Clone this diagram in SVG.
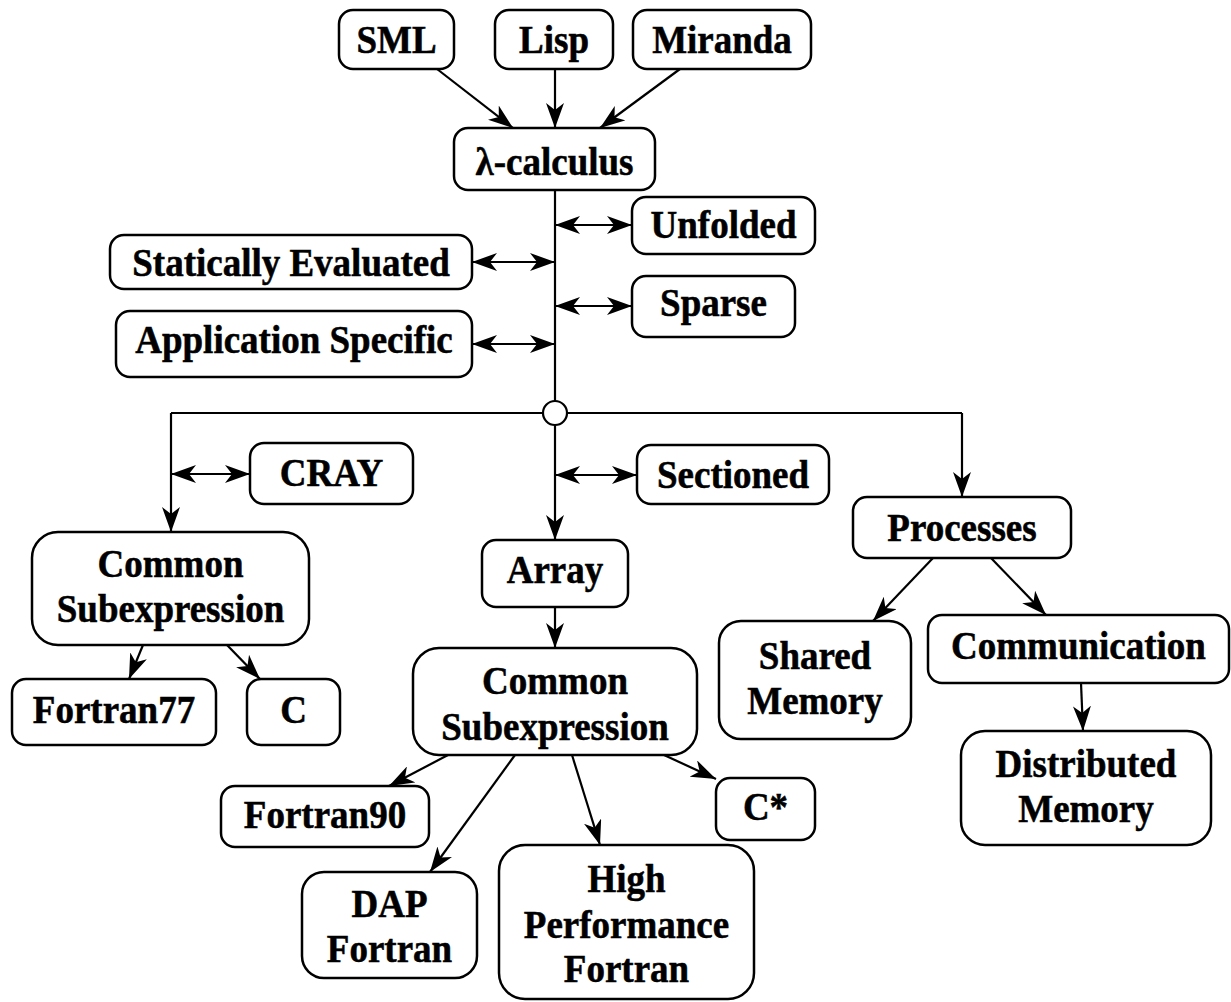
<svg xmlns="http://www.w3.org/2000/svg" width="1231" height="1002" viewBox="0 0 1231 1002">
<style>
.b{fill:#fff;stroke:#000;stroke-width:2.5}
.t text{font-family:"Liberation Serif","Times New Roman",serif;font-weight:bold;font-size:37px;text-anchor:middle;fill:#000;stroke:#000;stroke-width:0.5}
.c line,.c path{stroke:#000;stroke-width:2.2;fill:none}
.a{marker-end:url(#ah)}
.d{marker-start:url(#ah);marker-end:url(#ah)}
</style>
<defs>
<marker id="ah" markerUnits="userSpaceOnUse" viewBox="0 0 25 18" refX="25" refY="9" markerWidth="25" markerHeight="18" orient="auto-start-reverse">
<path d="M0,0 L25,9 L0,18 L7,9 Z" fill="#000"/>
</marker>
</defs>
<rect width="1231" height="1002" fill="#fff"/>
<g class="c" id="connectors">
<line class="a" x1="437" y1="69" x2="513" y2="128"/>
<line class="a" x1="555" y1="69" x2="555" y2="128"/>
<line class="a" x1="680" y1="69" x2="600" y2="128"/>
<line x1="555" y1="190" x2="555" y2="401"/>
<line class="d" x1="555" y1="225" x2="632" y2="225"/>
<line class="d" x1="472" y1="262" x2="555" y2="262"/>
<line class="d" x1="555" y1="306" x2="632" y2="306"/>
<line class="d" x1="472" y1="344" x2="555" y2="344"/>
<line x1="171" y1="413" x2="962" y2="413"/>
<path class="a" d="M171,413 V532"/>
<line class="a" x1="555" y1="425" x2="555" y2="540"/>
<path class="a" d="M962,413 V497"/>
<line class="d" x1="171" y1="474" x2="250" y2="474"/>
<line class="d" x1="555" y1="475" x2="637" y2="475"/>
<line class="a" x1="143" y1="645" x2="129" y2="679"/>
<line class="a" x1="227" y1="645" x2="260" y2="679"/>
<line class="a" x1="555" y1="607" x2="555" y2="648"/>
<line class="a" x1="448" y1="755" x2="389" y2="786"/>
<line class="a" x1="515" y1="755" x2="430" y2="872"/>
<line class="a" x1="572" y1="755" x2="600" y2="845"/>
<line class="a" x1="664" y1="755" x2="716" y2="779"/>
<line class="a" x1="933" y1="558" x2="873" y2="621"/>
<line class="a" x1="991" y1="558" x2="1046" y2="615"/>
<line class="a" x1="1081" y1="683" x2="1083" y2="731"/>
<circle cx="555" cy="413" r="12" fill="#fff" stroke="#000" stroke-width="2.2"/>
</g>
<g class="t">
<g id="sml"><rect class="b" x="339" y="10" width="115" height="59" rx="14"/><text transform="translate(396.5 53) scale(1 1.09)">SML</text></g>
<g id="lisp"><rect class="b" x="495" y="10" width="118" height="59" rx="14"/><text transform="translate(554 53) scale(1 1.09)">Lisp</text></g>
<g id="miranda"><rect class="b" x="633" y="10" width="178" height="59" rx="14"/><text transform="translate(722 53) scale(1 1.09)">Miranda</text></g>
<g id="lambda"><rect class="b" x="454" y="128" width="201" height="62" rx="14"/><text transform="translate(554.5 175) scale(1 1.09)">λ-calculus</text></g>
<g id="unfolded"><rect class="b" x="632" y="197" width="183" height="57" rx="14"/><text transform="translate(723.5 238) scale(1 1.09)">Unfolded</text></g>
<g id="statically"><rect class="b" x="110" y="235" width="362" height="54" rx="14"/><text transform="translate(291 276) scale(1 1.09)">Statically Evaluated</text></g>
<g id="sparse"><rect class="b" x="632" y="276" width="163" height="61" rx="14"/><text transform="translate(713.5 316) scale(1 1.09)">Sparse</text></g>
<g id="appspec"><rect class="b" x="116" y="311" width="356" height="66" rx="14"/><text transform="translate(294 353) scale(1 1.09)">Application Specific</text></g>
<g id="cray"><rect class="b" x="250" y="443" width="163" height="61" rx="14"/><text transform="translate(331.5 486) scale(1 1.09)">CRAY</text></g>
<g id="sectioned"><rect class="b" x="637" y="445" width="192" height="59" rx="14"/><text transform="translate(733 488) scale(1 1.09)">Sectioned</text></g>
<g id="array"><rect class="b" x="482" y="540" width="146" height="67" rx="14"/><text transform="translate(555 583) scale(1 1.09)">Array</text></g>
<g id="processes"><rect class="b" x="853" y="497" width="218" height="61" rx="14"/><text transform="translate(962 541) scale(1 1.09)">Processes</text></g>
<g id="communication"><rect class="b" x="928" y="615" width="301" height="68" rx="14"/><text transform="translate(1078.5 659) scale(1 1.09)">Communication</text></g>
<g id="commonL"><rect class="b" x="32" y="532" width="277" height="113" rx="26"/><text transform="translate(170.5 577) scale(1 1.09)">Common</text><text transform="translate(170.5 622) scale(1 1.09)">Subexpression</text></g>
<g id="fortran77"><rect class="b" x="12" y="679" width="204" height="66" rx="14"/><text transform="translate(114 723) scale(1 1.09)">Fortran77</text></g>
<g id="c"><rect class="b" x="247" y="679" width="93" height="66" rx="14"/><text transform="translate(293.5 723) scale(1 1.09)">C</text></g>
<g id="commonM"><rect class="b" x="413" y="648" width="284" height="107" rx="26"/><text transform="translate(555 694) scale(1 1.09)">Common</text><text transform="translate(555 740) scale(1 1.09)">Subexpression</text></g>
<g id="shared"><rect class="b" x="719" y="621" width="192" height="118" rx="22"/><text transform="translate(815 669) scale(1 1.09)">Shared</text><text transform="translate(815 714) scale(1 1.09)">Memory</text></g>
<g id="distributed"><rect class="b" x="961" y="731" width="250" height="114" rx="24"/><text transform="translate(1086 777) scale(1 1.09)">Distributed</text><text transform="translate(1086 822) scale(1 1.09)">Memory</text></g>
<g id="fortran90"><rect class="b" x="221" y="786" width="208" height="61" rx="14"/><text transform="translate(325 828) scale(1 1.09)">Fortran90</text></g>
<g id="cstar"><rect class="b" x="716" y="778" width="99" height="62" rx="14"/><text transform="translate(765.5 820) scale(1 1.09)">C*</text></g>
<g id="dap"><rect class="b" x="302" y="872" width="175" height="106" rx="22"/><text transform="translate(389.5 917) scale(1 1.09)">DAP</text><text transform="translate(389.5 962) scale(1 1.09)">Fortran</text></g>
<g id="hpf"><rect class="b" x="499" y="845" width="255" height="154" rx="26"/><text transform="translate(626.5 892) scale(1 1.09)">High</text><text transform="translate(626.5 938) scale(1 1.09)">Performance</text><text transform="translate(626.5 982) scale(1 1.09)">Fortran</text></g>
</g>
</svg>
